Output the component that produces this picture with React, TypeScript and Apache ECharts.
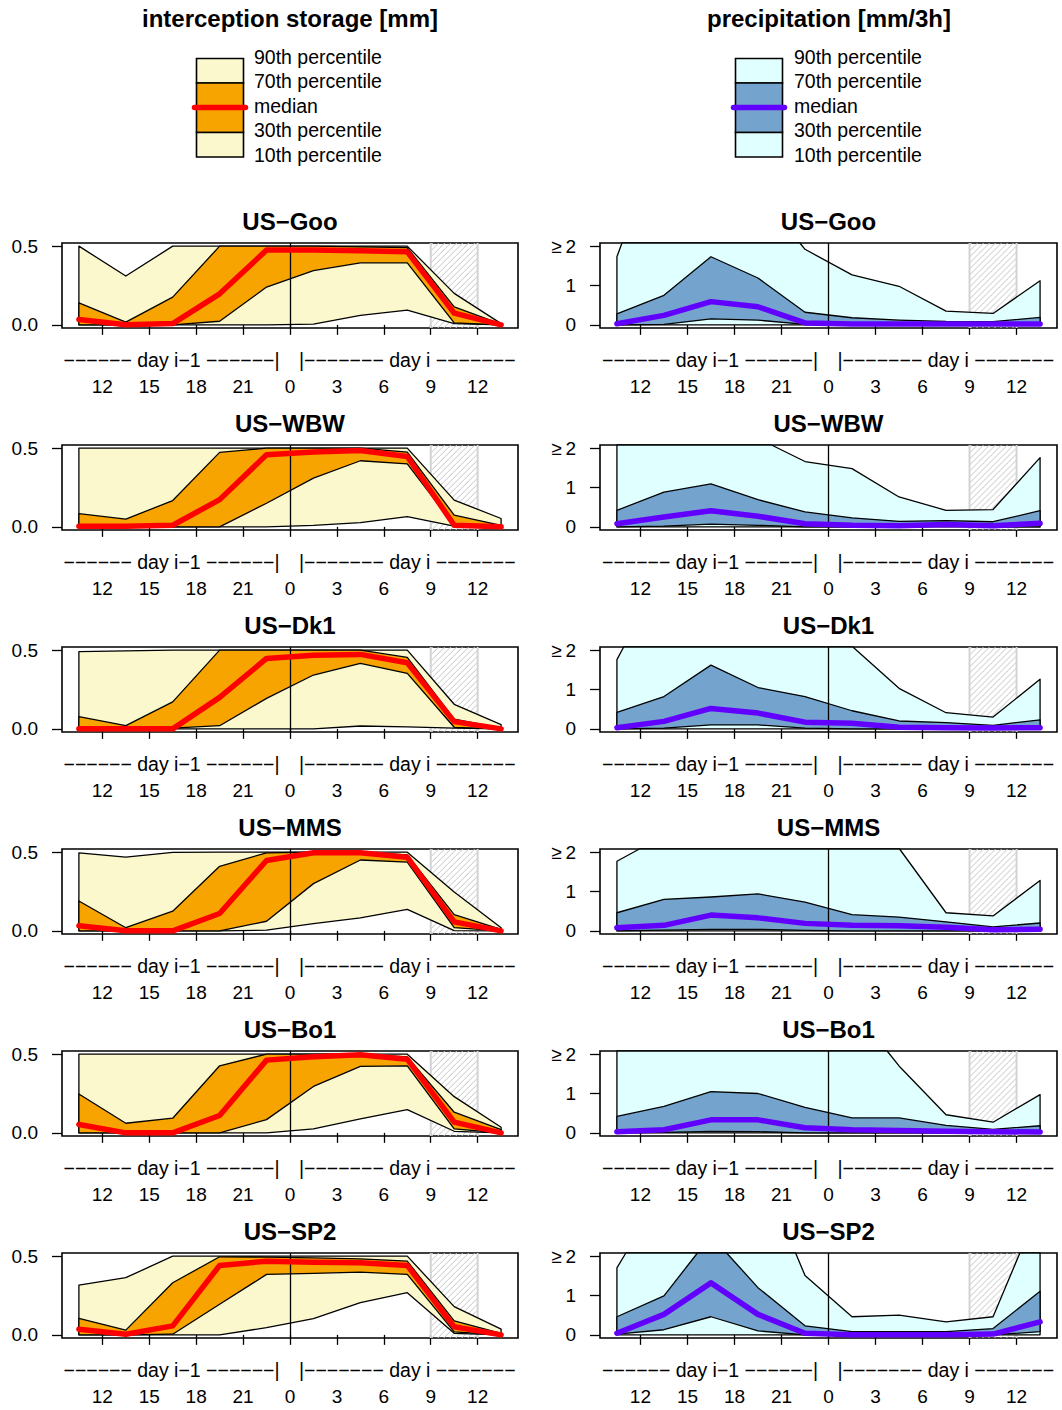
import React, { useEffect, useRef } from "react";
import * as echarts from "echarts";

// ---------- data ----------
const HOURS = [10.5, 13.5, 16.5, 19.5, 22.5, 25.5, 28.5, 31.5, 34.5, 37.5];
const TICK_HOURS = [12, 15, 18, 21, 24, 27, 30, 33, 36];
const HATCH_HOURS = [33, 36];
const MIDNIGHT = 24;
const SITES = ["US−Goo", "US−WBW", "US−Dk1", "US−MMS", "US−Bo1", "US−SP2"];
const COLUMN_TITLES = ["interception storage [mm]", "precipitation [mm/3h]"];
const LEGEND_LABELS = ["90th percentile", "70th percentile", "median", "30th percentile", "10th percentile"];
const DAY_LEFT = "−−−−−− day i−1 −−−−−−|";
const DAY_RIGHT = "|−−−−−−− day i −−−−−−−";

// interception storage [mm], one row per site
const interceptionP90 = [
  [0.5, 0.31, 0.5, 0.5, 0.5, 0.5, 0.5, 0.5, 0.2, 0.008],
  [0.5, 0.5, 0.5, 0.5, 0.5, 0.5, 0.5, 0.5, 0.17, 0.053],
  [0.49, 0.495, 0.5, 0.5, 0.5, 0.5, 0.5, 0.5, 0.156, 0.027],
  [0.496, 0.468, 0.498, 0.5, 0.5, 0.5, 0.5, 0.5, 0.247, 0.02],
  [0.5, 0.5, 0.5, 0.5, 0.5, 0.5, 0.5, 0.5, 0.23, 0.036],
  [0.316, 0.363, 0.5, 0.5, 0.5, 0.5, 0.5, 0.5, 0.179, 0.036],
];
const interceptionP70 = [
  [0.14, 0.017, 0.176, 0.5, 0.5, 0.5, 0.495, 0.49, 0.114, 0.005],
  [0.084, 0.049, 0.167, 0.473, 0.5, 0.5, 0.5, 0.475, 0.074, 0.01],
  [0.078, 0.02, 0.171, 0.5, 0.5, 0.5, 0.5, 0.454, 0.061, 0.005],
  [0.19, 0.02, 0.125, 0.41, 0.496, 0.5, 0.5, 0.483, 0.103, 0.01],
  [0.247, 0.061, 0.093, 0.426, 0.5, 0.5, 0.5, 0.483, 0.131, 0.02],
  [0.105, 0.03, 0.331, 0.496, 0.494, 0.489, 0.483, 0.468, 0.089, 0.01],
];
const interceptionMedian = [
  [0.034, 0.0, 0.008, 0.197, 0.475, 0.475, 0.47, 0.464, 0.074, 0.0],
  [0.004, 0.004, 0.01, 0.173, 0.458, 0.475, 0.485, 0.447, 0.01, 0.0],
  [0.0, 0.0, 0.0, 0.2, 0.447, 0.467, 0.473, 0.42, 0.046, 0.0],
  [0.032, 0.0, 0.0, 0.11, 0.447, 0.496, 0.496, 0.468, 0.057, 0.0],
  [0.053, 0.0, 0.0, 0.11, 0.462, 0.483, 0.496, 0.468, 0.068, 0.0],
  [0.036, 0.004, 0.057, 0.441, 0.468, 0.462, 0.458, 0.441, 0.051, 0.0],
];
const interceptionP30 = [
  [0.0, 0.0, 0.0, 0.023, 0.24, 0.345, 0.394, 0.394, 0.013, 0.0],
  [0.0, 0.0, 0.0, 0.0, 0.15, 0.31, 0.42, 0.4, 0.01, 0.0],
  [0.0, 0.0, 0.005, 0.02, 0.194, 0.342, 0.416, 0.352, 0.01, 0.0],
  [0.0, 0.0, 0.0, 0.0, 0.061, 0.3, 0.45, 0.437, 0.02, 0.0],
  [0.0, 0.0, 0.0, 0.0, 0.084, 0.295, 0.422, 0.426, 0.025, 0.0],
  [0.0, 0.0, 0.004, 0.194, 0.384, 0.39, 0.399, 0.384, 0.019, 0.0],
];
const interceptionP10 = [
  [0, 0, 0, 0, 0, 0.004, 0.06, 0.093, 0.008, 0],
  [0, 0, 0, 0, 0, 0.01, 0.027, 0.065, 0.004, 0],
  [0, 0, 0, 0, 0, 0.0, 0.018, 0.013, 0.005, 0],
  [0, 0, 0, 0, 0.004, 0.046, 0.082, 0.137, 0.002, 0],
  [0, 0, 0, 0, 0, 0.025, 0.089, 0.148, 0.01, 0],
  [0, 0, 0, 0, 0.046, 0.103, 0.205, 0.268, 0.01, 0],
];

// precipitation [mm/3h], one row per site
const precipP90 = [
  [1.73, 5.0, 5.0, 3.4, 1.92, 1.27, 0.98, 0.35, 0.29, 1.12],
  [3.0, 4.0, 4.0, 2.25, 1.66, 1.48, 0.76, 0.42, 0.44, 1.76],
  [1.76, 4.0, 4.0, 4.0, 4.0, 2.1, 1.03, 0.41, 0.3, 1.26],
  [1.77, 2.42, 4.0, 4.0, 4.0, 4.0, 2.1, 0.46, 0.38, 1.28],
  [3.0, 4.0, 4.0, 4.0, 4.0, 3.2, 1.7, 0.46, 0.27, 0.97],
  [1.7, 3.7, 5.0, 4.36, 1.51, 0.46, 0.5, 0.33, 0.46, 3.3],
];
const precipP70 = [
  [0.28, 0.75, 1.73, 1.19, 0.32, 0.18, 0.12, 0.085, 0.08, 0.19],
  [0.42, 0.88, 1.09, 0.69, 0.38, 0.23, 0.14, 0.16, 0.13, 0.41],
  [0.42, 0.82, 1.62, 1.05, 0.82, 0.46, 0.2, 0.16, 0.09, 0.23],
  [0.46, 0.8, 0.86, 0.94, 0.73, 0.41, 0.35, 0.23, 0.1, 0.2],
  [0.42, 0.67, 1.05, 1.0, 0.65, 0.38, 0.38, 0.19, 0.09, 0.18],
  [0.46, 0.99, 2.52, 1.2, 0.23, 0.08, 0.08, 0.08, 0.16, 1.11],
];
const precipMedian = [
  [0.03, 0.24, 0.59, 0.46, 0.05, 0.02, 0.02, 0.02, 0.02, 0.02],
  [0.08, 0.25, 0.41, 0.27, 0.08, 0.04, 0.03, 0.06, 0.03, 0.09],
  [0.03, 0.19, 0.52, 0.4, 0.17, 0.14, 0.04, 0.03, 0.02, 0.03],
  [0.08, 0.14, 0.4, 0.33, 0.19, 0.14, 0.13, 0.09, 0.03, 0.04],
  [0.03, 0.08, 0.33, 0.33, 0.13, 0.08, 0.06, 0.04, 0.03, 0.02],
  [0.04, 0.52, 1.32, 0.52, 0.04, 0.0, 0.0, 0.0, 0.02, 0.33],
];
const precipP30 = [
  [0, 0.01, 0.15, 0.12, 0.01, 0, 0, 0, 0, 0],
  [0, 0.02, 0.07, 0.04, 0, 0, 0, 0.02, 0, 0],
  [0, 0.02, 0.1, 0.1, 0.02, 0, 0, 0, 0, 0],
  [0, 0.02, 0.04, 0.04, 0.01, 0, 0, 0, 0, 0],
  [0, 0.01, 0.04, 0.03, 0, 0, 0, 0, 0, 0],
  [0.02, 0.13, 0.46, 0.1, 0, 0, 0, 0, 0, 0.08],
];
const precipP10 = [
  [0, 0, 0, 0, 0, 0, 0, 0, 0, 0],
  [0, 0, 0, 0, 0, 0, 0, 0, 0, 0],
  [0, 0, 0, 0, 0, 0, 0, 0, 0, 0],
  [0, 0, 0, 0, 0, 0, 0, 0, 0, 0],
  [0, 0, 0, 0, 0, 0, 0, 0, 0, 0],
  [0, 0, 0, 0, 0, 0, 0, 0, 0, 0],
];
const interceptionTicks = [0, 0.5];
const precipTicks = [0, 1, 2];

// ---------- layout / style ----------
const FONT = "'Liberation Sans', Arial, Helvetica, sans-serif";
const W = 1062;
const H = 1410;
const GRID_LEFT = [62, 600];
const GRID_WIDTH = [456, 457];
const GRID_TOP0 = 243;
const ROW_STEP = 202;
const GRID_HEIGHT = 85;
const X_MIN = 9.42;
const X_MAX = 38.58;

const COLUMNS = [
  {
    p10: interceptionP10, p30: interceptionP30, med: interceptionMedian, p70: interceptionP70, p90: interceptionP90,
    ymin: -0.02, ymax: 0.52, ticks: interceptionTicks,
    fmt: (v: number) => v.toFixed(1),
    light: "#FBF8CD", dark: "#F7A400", line: "#FF0000",
  },
  {
    p10: precipP10, p30: precipP30, med: precipMedian, p70: precipP70, p90: precipP90,
    ymin: -0.08, ymax: 2.08, ticks: precipTicks,
    fmt: (v: number) => (v === 2 ? "\u2265\u20092" : String(v)),
    light: "#E0FFFF", dark: "#74A4CD", line: "#6200FF",
  },
];

function clipTop(poly: number[][], ymax: number): number[][] {
  const out: number[][] = [];
  for (let i = 0; i < poly.length; i++) {
    const a = poly[i];
    const b = poly[(i + 1) % poly.length];
    const ain = a[1] <= ymax;
    const bin = b[1] <= ymax;
    if (ain) out.push(a);
    if (ain !== bin) {
      const t = (ymax - a[1]) / (b[1] - a[1]);
      out.push([a[0] + t * (b[0] - a[0]), ymax]);
    }
  }
  return out;
}

function hourToPx(c: number, h: number) {
  return GRID_LEFT[c] + ((h - X_MIN) / (X_MAX - X_MIN)) * GRID_WIDTH[c];
}

function buildOption() {
  const grids: any[] = [];
  const xAxes: any[] = [];
  const yAxes: any[] = [];
  const series: any[] = [];
  const graphics: any[] = [];

  const txt = (x: number, y: number, text: string, size: number, bold: boolean, align: string) => ({
    type: "text",
    x,
    y,
    silent: true,
    z: 50,
    style: {
      text,
      fill: "#000",
      font: `${bold ? "bold " : ""}${size}px ${FONT}`,
      textAlign: align,
      textVerticalAlign: "middle",
      align,
      verticalAlign: "middle",
    },
  });

  // header titles + legends
  const legendBoxX = [196.5, 735.5];
  const legendTextX = [254, 794];
  const colCenters = [290, 829];
  for (let c = 0; c < 2; c++) {
    const C = COLUMNS[c];
    graphics.push(txt(colCenters[c], 18.5, COLUMN_TITLES[c], 24, true, "center"));
    const bx = legendBoxX[c];
    const bw = 47;
    const sec = [
      [58.5, 24.5, C.light],
      [83, 49.5, C.dark],
      [132.5, 24.5, C.light],
    ];
    sec.forEach(([y, h, f]) => {
      graphics.push({
        type: "rect",
        silent: true,
        z: 40,
        shape: { x: bx, y: y as number, width: bw, height: h as number },
        style: { fill: f as string, stroke: "#000", lineWidth: 1.6 },
      });
    });
    graphics.push({
      type: "line",
      silent: true,
      z: 41,
      shape: { x1: bx - 2, y1: 107.5, x2: bx + bw + 2, y2: 107.5 },
      style: { stroke: C.line, lineWidth: 5.5, lineCap: "round" },
    });
    const ty = [56.5, 81, 105.5, 130, 154.5];
    LEGEND_LABELS.forEach((l, i) => graphics.push(txt(legendTextX[c], ty[i], l, 19.5, false, "left")));
  }

  for (let r = 0; r < SITES.length; r++) {
    for (let c = 0; c < 2; c++) {
      const idx = r * 2 + c;
      const C = COLUMNS[c];
      const top = GRID_TOP0 + r * ROW_STEP;
      grids.push({
        left: GRID_LEFT[c],
        top,
        width: GRID_WIDTH[c],
        height: GRID_HEIGHT,
        show: true,
        borderColor: "#000",
        borderWidth: 1.6,
        backgroundColor: "transparent",
        containLabel: false,
      });
      xAxes.push({
        type: "value",
        gridIndex: idx,
        min: X_MIN,
        max: X_MAX,
        axisLine: { show: false },
        splitLine: { show: false },
        axisTick: { show: true, customValues: TICK_HOURS, length: 10, lineStyle: { color: "#000", width: 1.3 } },
        axisLabel: {
          customValues: TICK_HOURS,
          formatter: (v: number) => String(Math.round(v) % 24),
          margin: 49,
          fontSize: 19,
          color: "#000",
          fontFamily: FONT,
        },
      });
      yAxes.push({
        type: "value",
        gridIndex: idx,
        min: C.ymin,
        max: C.ymax,
        axisLine: { show: false },
        splitLine: { show: false },
        axisTick: { show: true, customValues: C.ticks, length: 10, lineStyle: { color: "#000", width: 1.3 } },
        axisLabel: {
          customValues: C.ticks,
          formatter: C.fmt,
          margin: 24,
          fontSize: 19,
          color: "#000",
          fontFamily: FONT,
        },
      });

      const ymin = C.ymin;
      const ymax = C.ymax;
      // hatched window (9-12 h of day i)
      series.push({
        type: "custom",
        xAxisIndex: idx,
        yAxisIndex: idx,
        silent: true,
        z: 1,
        data: [[HATCH_HOURS[0], HATCH_HOURS[1]]],
        renderItem: (params: any, api: any) => {
          const a = api.coord([api.value(0), ymax]);
          const b = api.coord([api.value(1), ymin]);
          const x1 = a[0], y1 = a[1], x2 = b[0], y2 = b[1];
          const children: any[] = [];
          const step = 6;
          for (let k = x1 + y1 + 2; k <= x2 + y2; k += step) {
            const xa = Math.max(x1, k - y2);
            const xb = Math.min(x2, k - y1);
            if (xb > xa) {
              children.push({
                type: "line",
                shape: { x1: xa, y1: k - xa, x2: xb, y2: k - xb },
                style: { stroke: "#C6C6C6", lineWidth: 1 },
              });
            }
          }
          children.push({ type: "line", shape: { x1: x1, y1: y1, x2: x1, y2: y2 }, style: { stroke: "#D3D3D3", lineWidth: 2 } });
          children.push({ type: "line", shape: { x1: x2, y1: y1, x2: x2, y2: y2 }, style: { stroke: "#D3D3D3", lineWidth: 2 } });
          return { type: "group", children };
        },
      });

      // percentile bands
      const rows = HOURS.map((h, i) => [h, C.p10[r][i], C.p30[r][i], C.p70[r][i], C.p90[r][i]]);
      const light = C.light;
      const dark = C.dark;
      series.push({
        type: "custom",
        xAxisIndex: idx,
        yAxisIndex: idx,
        silent: true,
        z: 2,
        encode: { x: 0, y: [1, 2, 3, 4] },
        data: rows,
        renderItem: (params: any, api: any) => {
          if (params.dataIndex !== 0) return null;
          const n = params.dataInsideLength;
          const xs: number[] = [], q10: number[] = [], q30: number[] = [], q70: number[] = [], q90: number[] = [];
          for (let i = 0; i < n; i++) {
            xs.push(api.value(0, i));
            q10.push(api.value(1, i));
            q30.push(api.value(2, i));
            q70.push(api.value(3, i));
            q90.push(api.value(4, i));
          }
          const mk = (hi: number[], lo: number[]) => {
            const up = xs.map((x, i) => [x, hi[i]]);
            const down = xs.map((x, i) => [x, lo[i]]).reverse();
            return clipTop(up.concat(down), ymax).map((p) => api.coord(p));
          };
          return {
            type: "group",
            children: [
              { type: "polygon", shape: { points: mk(q90, q10) }, style: { fill: light, stroke: "#000", lineWidth: 1.3, lineJoin: "round" } },
              { type: "polygon", shape: { points: mk(q70, q30) }, style: { fill: dark, stroke: "#000", lineWidth: 1.3, lineJoin: "round" } },
            ],
          };
        },
        markLine: {
          silent: true,
          symbol: ["none", "none"],
          label: { show: false },
          lineStyle: { color: "#000", width: 1.3, type: "solid" },
          data: [{ xAxis: MIDNIGHT }],
        },
      });

      // median
      series.push({
        type: "line",
        xAxisIndex: idx,
        yAxisIndex: idx,
        silent: true,
        z: 5,
        clip: false,
        symbol: "none",
        showSymbol: false,
        data: HOURS.map((h, i) => [h, C.med[r][i]]),
        lineStyle: { color: C.line, width: 5.5, cap: "round", join: "round" },
      });

      // panel title & day annotation
      graphics.push(txt((GRID_LEFT[c] + GRID_LEFT[c] + GRID_WIDTH[c]) / 2, top - 22, SITES[r], 24, true, "center"));
      const mx = hourToPx(c, MIDNIGHT);
      graphics.push(txt(mx - 10.5, top + 117, DAY_LEFT, 19.5, false, "right"));
      graphics.push(txt(mx + 9, top + 117, DAY_RIGHT, 19.5, false, "left"));
    }
  }

  return {
    animation: false,
    backgroundColor: "#fff",
    textStyle: { fontFamily: FONT },
    grid: grids,
    xAxis: xAxes,
    yAxis: yAxes,
    series,
    graphic: graphics,
  };
}

export default function App() {
  const ref = useRef<HTMLDivElement>(null);
  useEffect(() => {
    if (!ref.current) return;
    const chart = echarts.init(ref.current, null, { renderer: "svg", width: W, height: H });
    chart.setOption(buildOption() as any);
    return () => chart.dispose();
  }, []);
  return (
    <div
      ref={ref}
      style={{ position: "absolute", left: 0, top: 0, width: W, height: H, background: "#fff" }}
    />
  );
}
